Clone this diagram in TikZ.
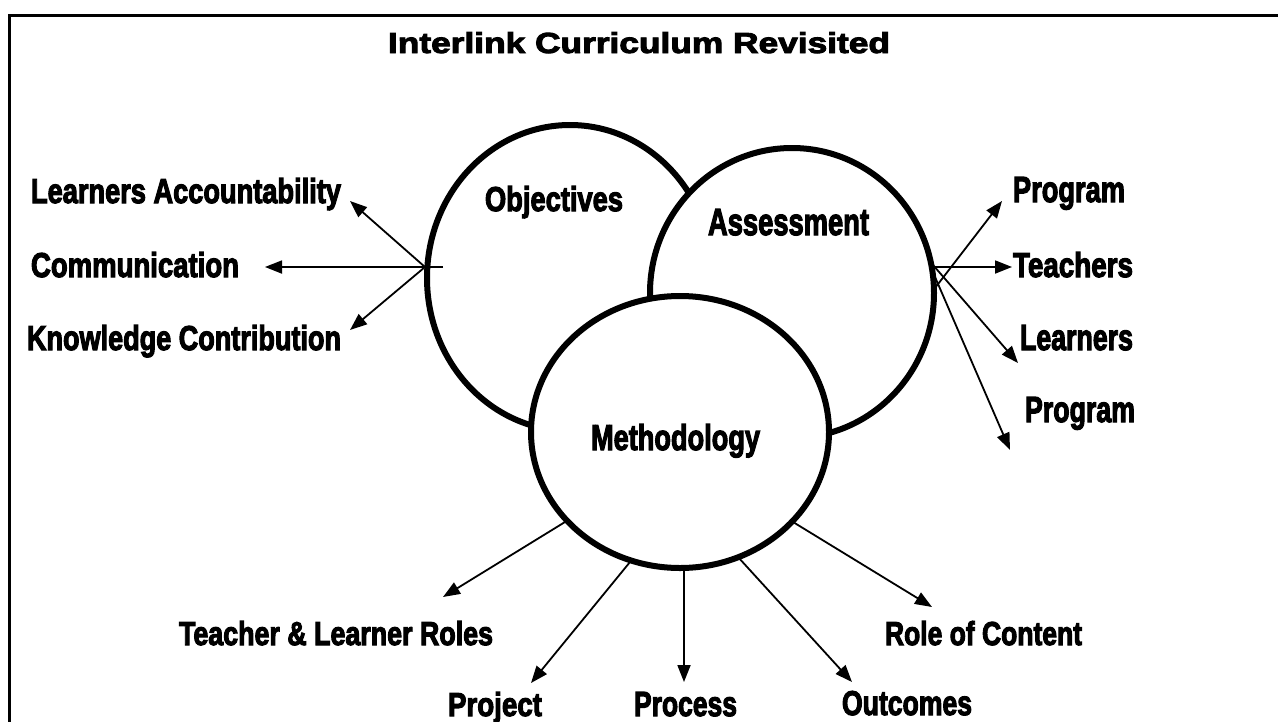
\documentclass[tikz,border=0pt]{standalone}
\usepackage{fontspec}
\usetikzlibrary{arrows.meta,shapes.geometric}
\newfontfamily\labfont[FakeBold=3.5,BoldFeatures={FakeBold=3.5}]{Liberation Sans}
\newfontfamily\titlefont[FakeBold=3,BoldFeatures={FakeBold=3}]{Liberation Sans}
\newcommand\lbltext[3]{\resizebox{#1pt}{#2pt}{\labfont\bfseries #3}}
\tikzset{
  circ/.style={draw, ellipse, line width=6pt, fill=white, inner sep=0pt, outer sep=0pt},
  conn/.style={line width=1.8pt, -{Triangle[length=17pt,width=13pt]}},
  lbl/.style={inner sep=0pt, outer sep=0pt, anchor=base west},
  frame/.style={line width=3pt}
}
\begin{document}
\begin{tikzpicture}[x=1pt,y=-1pt]
\useasboundingbox (0,0) rectangle (1278,721);
\draw[frame] (9,15) rectangle (1300,740);

% title
\node[lbl] (title) at (388,53) {\resizebox{502pt}{21pt}{\titlefont\bfseries Interlink Curriculum Revisited}};

% circles
\node[circ, minimum width=286pt, minimum height=306pt] (obj) at (570,278) {};
\node[circ, minimum width=284pt, minimum height=290pt] (ass) at (792,293) {};
\node[circ, minimum width=298pt, minimum height=272pt] (meth) at (680,432) {};

% circle labels
\node[lbl] (objT) at (485,211) {\lbltext{138}{25}{Objectives}};
\node[lbl] (assT) at (708,235) {\lbltext{161}{26}{Assessment}};
\node[lbl] (methT) at (591,450) {\lbltext{169}{26}{Methodology}};

% left labels
\node[lbl] (la) at (31,203) {\lbltext{310}{25}{Learners Accountability}};
\node[lbl] (com) at (31,277) {\lbltext{208}{25}{Communication}};
\node[lbl] (kc) at (27,350) {\lbltext{314}{25}{Knowledge Contribution}};

% right labels
\node[lbl] (pr1) at (1013,202) {\lbltext{112}{25}{Program}};
\node[lbl] (tea) at (1013,277) {\lbltext{120}{25}{Teachers}};
\node[lbl] (lea) at (1020,350) {\lbltext{113}{25}{Learners}};
\node[lbl] (pr2) at (1025,422) {\lbltext{110}{25}{Program}};

% bottom labels
\node[lbl] (tlr) at (179,645) {\lbltext{314}{24}{Teacher \& Learner Roles}};
\node[lbl] (proj) at (448,716) {\lbltext{94}{24}{Project}};
\node[lbl] (proc) at (634,716) {\lbltext{103}{24}{Process}};
\node[lbl] (out) at (842,715) {\lbltext{130}{24}{Outcomes}};
\node[lbl] (roc) at (885,645) {\lbltext{197}{24}{Role of Content}};

% connector end points
\coordinate (oL) at (425,267);
\coordinate (oL2) at (443,267);
\coordinate (tLA) at (350,201);
\coordinate (tCom) at (265,267);
\coordinate (tKC) at (350,330);

\coordinate (aR1) at (935,288);
\coordinate (aR2) at (933,267);
\coordinate (aR3) at (933,265);
\coordinate (aR4) at (935,277);
\coordinate (tPr1) at (1002,201);
\coordinate (tTea) at (1012,267);
\coordinate (tLea) at (1018,363);
\coordinate (tPr2) at (1010,450);

\coordinate (m1) at (565,522);
\coordinate (m2) at (630,562);
\coordinate (m3) at (684,568);
\coordinate (m4) at (738,557);
\coordinate (m5) at (793,522);
\coordinate (tTLR) at (443,597);
\coordinate (tProj) at (531,683);
\coordinate (tProc) at (684,682);
\coordinate (tOut) at (852,682);
\coordinate (tRoC) at (932,607);

% connectors
\draw[conn] (oL) -- (tLA);
\draw[conn] (oL2) -- (tCom);
\draw[conn] (oL) -- (tKC);

\draw[conn] (aR1) -- (tPr1);
\draw[conn] (aR2) -- (tTea);
\draw[conn] (aR3) -- (tLea);
\draw[conn] (aR4) -- (tPr2);

\draw[conn] (m1) -- (tTLR);
\draw[conn] (m2) -- (tProj);
\draw[conn] (m3) -- (tProc);
\draw[conn] (m4) -- (tOut);
\draw[conn] (m5) -- (tRoC);
\end{tikzpicture}
\end{document}
